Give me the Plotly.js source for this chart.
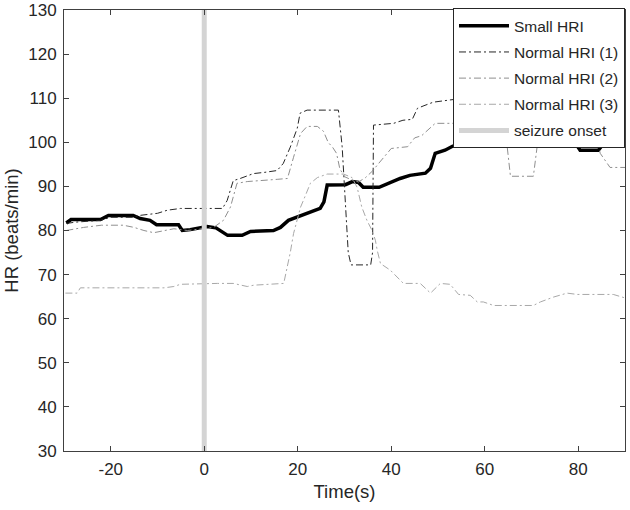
<!DOCTYPE html>
<html>
<head>
<meta charset="utf-8">
<script src="https://cdn.plot.ly/plotly-3.0.1.min.js"></script>
<style>html,body{margin:0;padding:0;background:#fff;}#chart{width:630px;height:510px;}</style>
</head>
<body>
<div id="chart"></div>
<script>
// Time (s) and HR (beats/min)
var smallX = [-29.5,-28.5,-22.2,-20.5,-15.2,-13.7,-11.6,-10.2,-5.5,-4.7,-3,-0.8,0.6,2.5,3.4,5,8.1,9,9.9,14.8,16.3,18,20.6,22.7,24.8,25.6,26.3,30.2,31.7,33,34,37.4,39.4,41.9,44,47.3,48.4,49.4,51.5,53.1,55,60,65,70,75,79.7,80.4,84.3,85.1,90];
var smallY = [81.7,82.5,82.5,83.4,83.4,82.7,82.3,81.3,81.3,80,80.2,80.7,80.9,80.6,80,78.9,78.9,79.4,79.8,80,80.7,82.3,83.4,84.1,85,86.5,90.3,90.4,91.1,90.9,89.8,89.8,90.7,91.8,92.5,93,94.1,97.5,98.2,99.1,99.8,100.3,100.8,101,100.8,99.3,98.2,98.2,99.3,99.3];

var n1X = [-29.5,-27.5,-22.2,-20,-15.2,-14,-10,-7.9,-5.1,3.9,4.9,6.2,7.7,10.5,13,15.6,16.9,18.4,19.9,20.5,22,28.7,29.5,30.2,30.8,31.4,35.6,36.0,36.1,36.2,40.5,42.5,44.5,45.6,47,49,53.3,58,65,75,85,90];
var n1Y = [81.6,81.9,82.3,83,83,83.4,83.9,84.6,85,85,86.8,91.3,91.8,92.9,93.2,93.6,95.2,98.9,103.2,106.6,107.3,107.3,99,85,75,72.2,72.2,75,90,103.9,104.3,105,105.2,107.7,108.3,109.1,109.7,110.5,111,111.5,111,110.5];

var n2X = [-29.5,-25.8,-22,-17.3,-15,-12.9,-10.8,-8.6,-6.5,-3.6,-0.8,2,4.1,5.6,7,9.2,15.6,17.8,19.1,20.6,22,24.2,25.5,26.5,27.5,28.3,29,30,31.5,33,34.5,36,37.3,39,40,43.5,45,46.5,48,49.4,53,58,63.5,64.8,65.5,70.4,71.2,72,78,83.5,84.7,86.8,90];
var n2Y = [80,80.7,81.2,81.2,80.7,80,79.5,80,80.4,80,80.4,80.7,82.3,85.3,90.7,91.1,91.6,91.8,96.6,102,103.6,103.6,102.5,100,98.8,97.5,94,92.2,91.5,91,92,93.5,95.2,97.5,98.6,99,101,101.5,103,104.3,104.3,104.5,104.5,99,92.3,92.3,99,104,104,103,97.5,94.3,94.3];

var n3X = [-29.7,-27.2,-26.5,-8.6,-6.5,-5.1,2.8,6.2,9.2,10.6,17,17.7,18.4,19.1,20.6,21.2,22.7,24.2,26.3,29.8,31.6,32.7,33.7,34.8,35.9,36.6,37,37.7,39.8,42.6,46.2,48.4,50.5,52.6,54.4,56.9,58.4,59.7,61.9,70.4,71.9,74.7,77.6,79.8,87.5,89.4,90];
var n3Y = [65.8,65.8,67,67,67.3,67.8,68,68,67.3,67.6,68,71.4,75,79.3,85.3,86.8,90.7,92,92.8,92.8,92,89.8,85.3,82.3,80,77.8,75.5,72.5,71,68,68,65.8,68,67.8,65.5,65.3,63.8,63.8,63,63,63.8,64.9,65.8,65.5,65.5,64.9,64.7];

var onsetX = [0, 0];
var onsetY = [30, 130];

var names = ['Small HRI', 'Normal HRI (1)', 'Normal HRI (2)', 'Normal HRI (3)', 'seizure onset'];
var xTicks = [-20, 0, 20, 40, 60, 80];
var yTicks = [30, 40, 50, 60, 70, 80, 90, 100, 110, 120, 130];

var dd = '7px,3px,2px,3px';
var traces = [
  {x: smallX, y: smallY, name: names[0], legendgroup: 'a', mode: 'lines', line: {color: '#000000', width: 3.5}},
  {x: n1X, y: n1Y, name: names[1], legendgroup: 'b', mode: 'lines', line: {color: '#262626', width: 1, dash: dd}},
  {x: n2X, y: n2Y, name: names[2], legendgroup: 'c', mode: 'lines', line: {color: '#8f8f8f', width: 1, dash: dd}},
  {x: n3X, y: n3Y, name: names[3], legendgroup: 'd', mode: 'lines', line: {color: '#a8a8a8', width: 1, dash: dd}},
  {x: onsetX, y: onsetY, name: names[4], legendgroup: 'e', mode: 'lines', line: {color: '#d4d4d4', width: 5}}
];

var axisCommon = {
  showgrid: false, zeroline: false, showline: true, mirror: 'allticks',
  linecolor: '#404040', linewidth: 1, ticks: 'inside', ticklen: 5, tickcolor: '#404040',
  ticklabelstandoff: 3,
  tickfont: {family: 'Liberation Sans, Arial, sans-serif', size: 17, color: '#262626'}
};

var layout = {
  width: 630, height: 510,
  margin: {l: 64, r: 5, t: 10, b: 59},
  paper_bgcolor: '#ffffff', plot_bgcolor: '#ffffff',
  font: {family: 'Liberation Sans, Arial, sans-serif', color: '#262626'},
  showlegend: true,
  xaxis: Object.assign({}, axisCommon, {
    range: [-30, 90], tickmode: 'array', tickvals: xTicks, ticktext: xTicks.map(String),
    title: {text: 'Time(s)', font: {size: 18.5, color: '#262626'}, standoff: 6}
  }),
  yaxis: Object.assign({}, axisCommon, {
    range: [30, 130], tickmode: 'array', tickvals: yTicks, ticktext: yTicks.map(String),
    title: {text: 'HR (beats/min)', font: {size: 18.5, color: '#262626'}, standoff: 4}
  }),
  legend: {
    x: 1, y: 1.004, xanchor: 'right', yanchor: 'top',
    bgcolor: '#ffffff', bordercolor: '#262626', borderwidth: 1,
    font: {size: 15.5, color: '#262626'}, itemwidth: 50, tracegroupgap: 3,
    traceorder: 'grouped'
  }
};

Plotly.newPlot('chart', traces, layout, {displayModeBar: false, staticPlot: true});
</script>
</body>
</html>
